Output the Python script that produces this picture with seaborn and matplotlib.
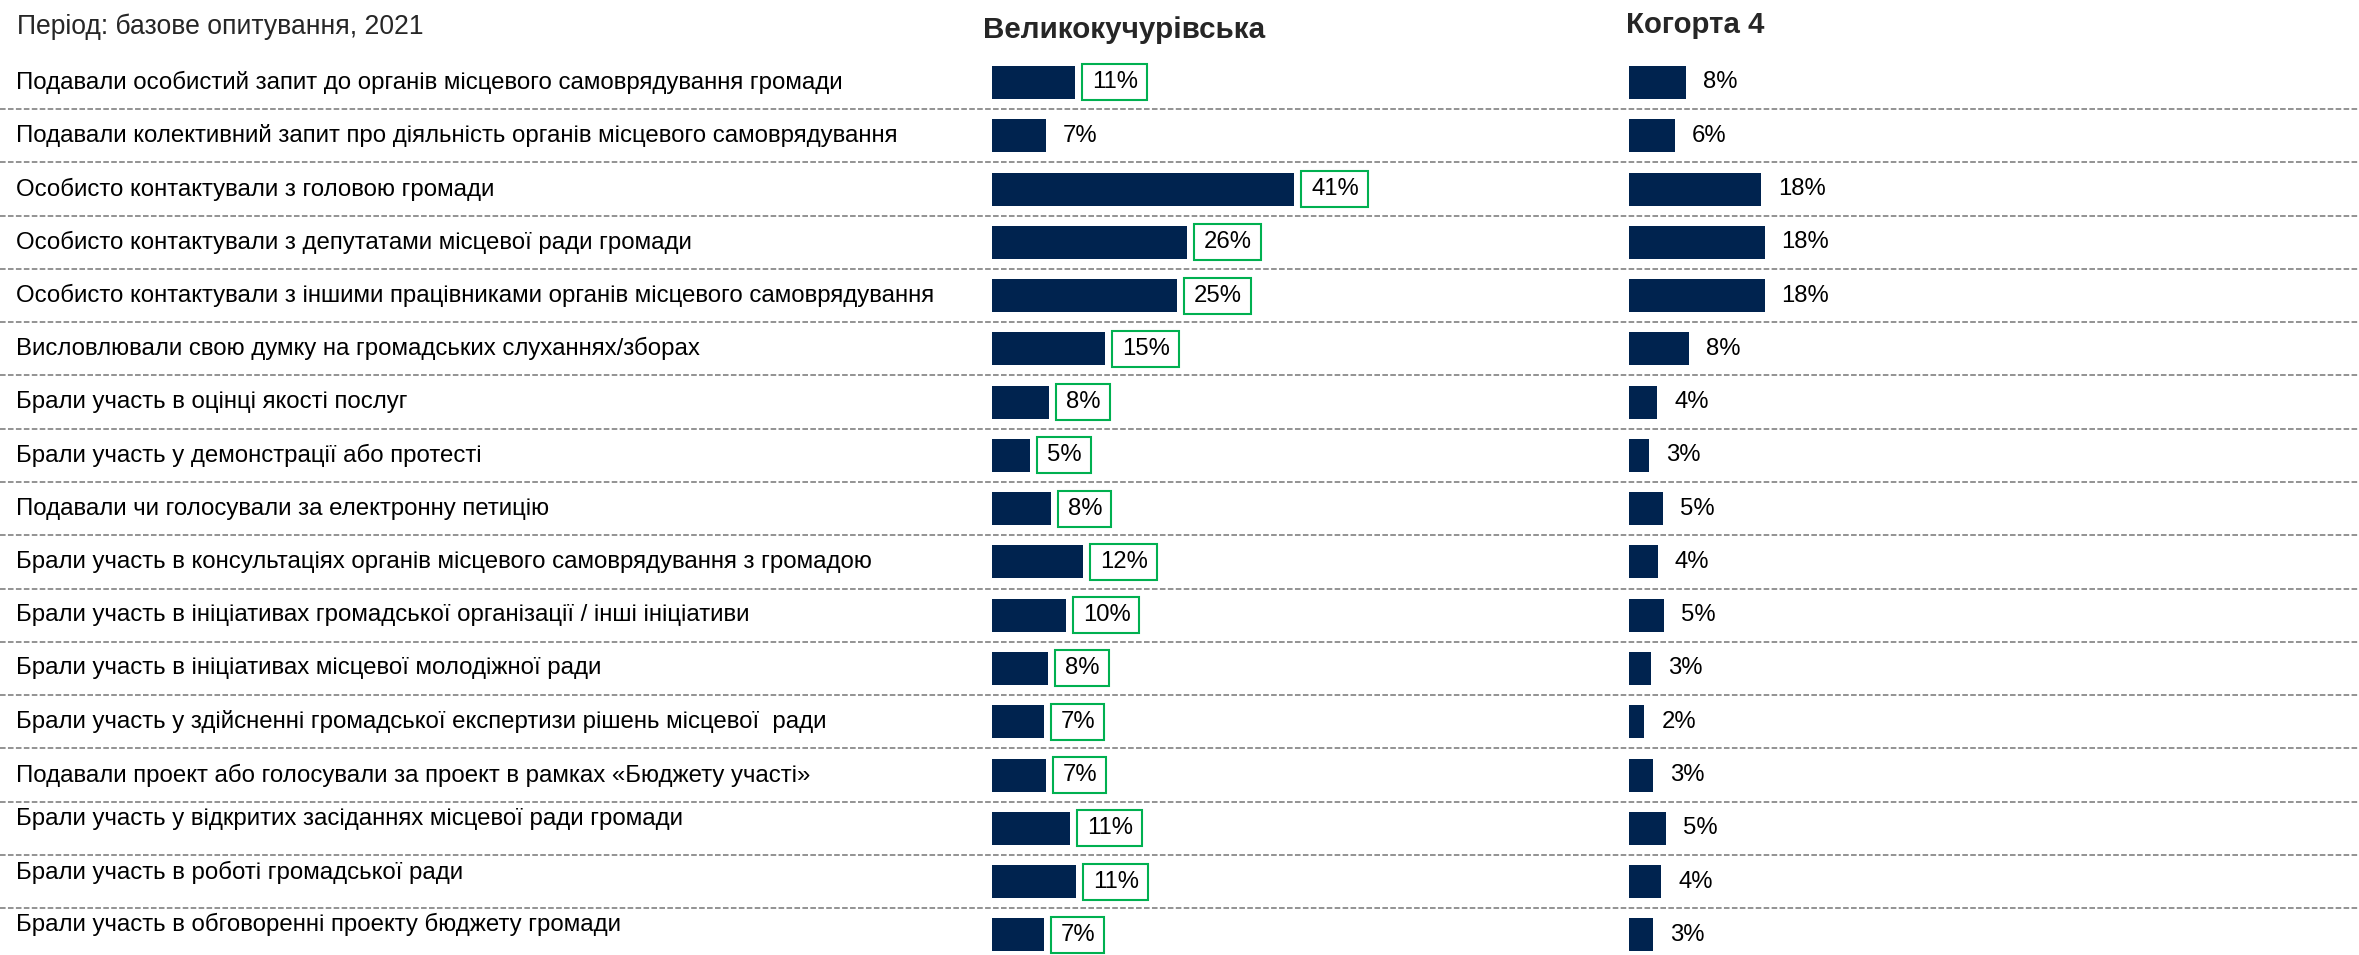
import matplotlib
matplotlib.use("Agg")
import matplotlib.pyplot as plt
import seaborn as sns
import pandas as pd
from matplotlib.patches import Rectangle

# ---------------- data ----------------
period_title = "Період: базове опитування, 2021"
panel_left_title = "Великокучурівська"
panel_right_title = "Когорта 4"

categories = [
    "Подавали особистий запит до органів місцевого самоврядування громади",
    "Подавали колективний запит про діяльність органів місцевого самоврядування",
    "Особисто контактували з головою громади",
    "Особисто контактували з депутатами місцевої ради громади",
    "Особисто контактували з іншими працівниками органів місцевого самоврядування",
    "Висловлювали свою думку на громадських слуханнях/зборах",
    "Брали участь в оцінці якості послуг",
    "Брали участь у демонстрації або протесті",
    "Подавали чи голосували за електронну петицію",
    "Брали участь в консультаціях органів місцевого самоврядування з громадою",
    "Брали участь в ініціативах громадської організації / інші ініціативи",
    "Брали участь в ініціативах місцевої молодіжної ради",
    "Брали участь у здійсненні громадської експертизи рішень місцевої  ради",
    "Подавали проект або голосували за проект в рамках «Бюджету участі»",
    "Брали участь у відкритих засіданнях місцевої ради громади",
    "Брали участь в роботі громадської ради",
    "Брали участь в обговоренні проекту бюджету громади",
]

left_values = [11.3, 7.3, 41.0, 26.4, 25.1, 15.4, 7.8, 5.2, 8.0, 12.4,
               10.0, 7.6, 7.0, 7.3, 10.6, 11.4, 7.0]
left_highlight = [True, False, True, True, True, True, True, True, True, True,
                  True, True, True, True, True, True, True]

right_values = [7.8, 6.2, 17.9, 18.4, 18.4, 8.1, 3.8, 2.7, 4.6, 3.9,
                4.7, 3.0, 2.1, 3.2, 5.0, 4.4, 3.2]

# ---------------- style ----------------
W, H = 2359, 955
DPI = 100
NAVY = "#00234F"
GREEN = "#00B050"
GRID = "#8A8A8A"
FONT = "Liberation Sans"
LABEL_FS = 17.3
VALUE_FS = 17.2

sns.set_theme(style="white")
plt.rcParams["font.family"] = [FONT, "DejaVu Sans"]

row0_px = 82.5      # centre of first row, px from top
row_px = 53.27      # row pitch in px
px_per_pct = 7.37   # bar scale
n = len(categories)
y_top = -row0_px / row_px
y_bot = (H - row0_px) / row_px

fig = plt.figure(figsize=(W / DPI, H / DPI), dpi=DPI)
fig.patch.set_facecolor("white")


def fy(px):
    return 1 - px / H


# background axes for labels and dashed separators (x in pixels)
bg = fig.add_axes([0, 0, 1, 1])
bg.set_xlim(0, W)
bg.set_ylim(y_bot, y_top)
bg.axis("off")
bg.hlines([i + 0.5 for i in range(n - 1)], 0, W, colors=GRID,
          linewidth=1.3, linestyles=(0, (3.1, 1.3)))

label_shift = [0] * 14 + [-0.17, -0.17, -0.2]
for i, cat in enumerate(categories):
    bg.text(16, i + label_shift[i], cat, ha="left", va="center",
            fontsize=LABEL_FS, color="black")

fig.text(17 / W, fy(27), period_title, fontsize=19.1, va="center", ha="left")
fig.text(983 / W, fy(30), panel_left_title, fontsize=21.3, fontweight="bold",
         va="center", ha="left")
fig.text(1626 / W, fy(25), panel_right_title, fontsize=21.2, fontweight="bold",
         va="center", ha="left")


def panel(x0_px, x1_px, values):
    ax = fig.add_axes([x0_px / W, 0, (x1_px - x0_px) / W, 1])
    df = pd.DataFrame({"cat": categories, "val": values})
    sns.barplot(data=df, x="val", y="cat", orient="h", ax=ax, color=NAVY,
                saturation=1, width=33 / row_px, linewidth=0)
    ax.set_xlim(0, (x1_px - x0_px) / px_per_pct)
    ax.set_ylim(y_bot, y_top)
    ax.axis("off")
    ax.patch.set_alpha(0)
    texts = []
    for i, v in enumerate(values):
        t = ax.text(v + 17 / px_per_pct, i, f"{v:.0f}%", ha="left",
                    va="center", fontsize=VALUE_FS, color="black")
        texts.append(t)
    return ax, texts


axL, textsL = panel(992, 1600, left_values)
axR, textsR = panel(1629, W, right_values)

fig.canvas.draw()
renderer = fig.canvas.get_renderer()
inv = fig.transFigure.inverted()
for i, (t, hl) in enumerate(zip(textsL, left_highlight)):
    if not hl:
        continue
    bb = t.get_window_extent(renderer)
    yc = H - (row0_px + i * row_px)  # display y (from bottom)
    x0, y0 = inv.transform((bb.x0 - 10, yc - 18))
    x1, y1 = inv.transform((bb.x1 + 9, yc + 18))
    fig.patches.append(Rectangle((x0, y0), x1 - x0, y1 - y0,
                                 transform=fig.transFigure, fill=False,
                                 edgecolor=GREEN, linewidth=1.5))

fig.savefig("out.png", dpi=DPI, facecolor="white")
